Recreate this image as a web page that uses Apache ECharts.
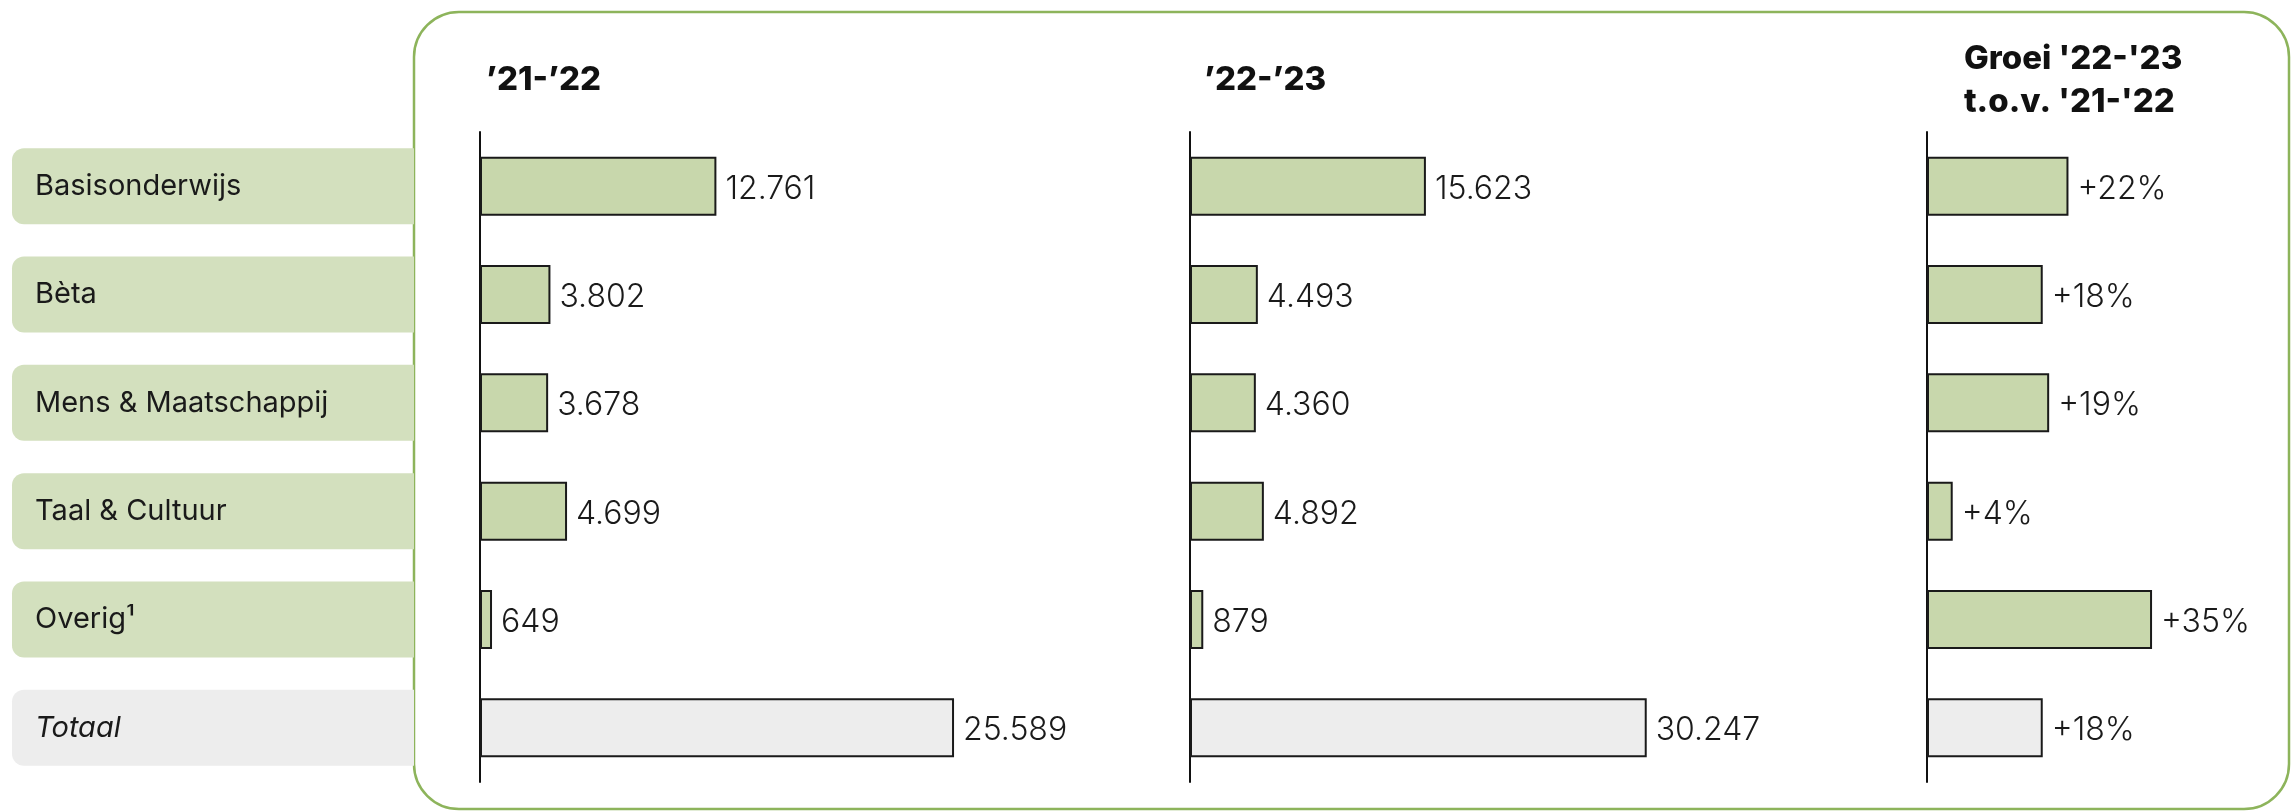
<!DOCTYPE html>
<html lang="nl">
<head>
    <meta charset="UTF-8">
    <title>Studenten per sector</title>
    <script src="https://cdn.jsdelivr.net/npm/echarts@6/dist/echarts.min.js"></script>
    <style type="text/css">
        html, body { margin: 0; padding: 0; background: #fff; }
        #chartData { width: 2293px; height: 812px; }
    </style>
</head>
<body>
<div id="chartData"></div>
<script type="text/javascript">
    var categories = ['Basisonderwijs', 'Bèta', 'Mens & Maatschappij', 'Taal & Cultuur', 'Overig¹', 'Totaal'];
    var values2122 = [12761, 3802, 3678, 4699, 649, 25589];
    var values2223 = [15623, 4493, 4360, 4892, 879, 30247];
    var growth = [22, 18, 19, 4, 35, 18];
    var headers = ['’21-’22', '’22-’23', 'Groei \'22-\'23\nt.o.v. \'21-\'22'];

    var green = '#c8d7ac', pillGreen = '#d3e0be', grey = '#ededed', frame = '#8db45b';
    var fontFamily = 'Inter';

    function dotted(v) {
        return String(v).replace(/\B(?=(\d{3})+(?!\d))/g, '.');
    }

    function barData(arr) {
        var out = [];
        for (var i = 0; i < arr.length; i++) {
            out.push({
                value: arr[i],
                itemStyle: { color: categories[i] == 'Totaal' ? grey : green }
            });
        }
        return out;
    }

    function yAxisItem(idx, withLabels) {
        return {
            type: 'category',
            gridIndex: idx,
            inverse: true,
            data: categories,
            axisTick: { show: false },
            axisLine: { show: true, lineStyle: { color: '#111', width: 2 } },
            axisLabel: {
                show: withLabels,
                margin: 468,
                align: 'left',
                formatter: function (v) {
                    return v == 'Totaal' ? '{t|' + v + '}' : '{g|' + v + '}';
                },
                rich: {
                    g: {
                        backgroundColor: pillGreen, width: 379, height: 76, lineHeight: 76,
                        padding: [0, 0, 0, 23], borderRadius: [12, 0, 0, 12],
                        fontSize: 29, color: '#1a1a1a', fontFamily: fontFamily
                    },
                    t: {
                        backgroundColor: grey, width: 379, height: 76, lineHeight: 76,
                        padding: [0, 0, 0, 23], borderRadius: [12, 0, 0, 12],
                        fontSize: 29, color: '#1a1a1a', fontStyle: 'italic', fontFamily: fontFamily
                    }
                }
            }
        };
    }

    function seriesItem(idx, data, fmt) {
        return {
            type: 'bar',
            xAxisIndex: idx,
            yAxisIndex: idx,
            barWidth: 59,
            data: barData(data),
            itemStyle: { borderColor: '#1a1a1a', borderWidth: 2 },
            label: {
                show: true,
                position: 'right',
                distance: 9,
                offset: [0, 3],
                fontSize: 32,
                fontWeight: 300,
                color: '#1a1a1a',
                fontFamily: fontFamily,
                formatter: function (p) { return fmt(p.value); }
            },
            silent: true
        };
    }

    function header(x, y, txt) {
        return {
            type: 'text', left: x, top: y, silent: true,
            style: {
                text: txt, fill: '#111', fontSize: 33, fontWeight: 800,
                fontFamily: fontFamily, lineHeight: 43
            }
        };
    }

    var myChart = echarts.init(document.getElementById('chartData'), null, { renderer: 'canvas' });

    var option = {
        animation: false,
        backgroundColor: '#fff',
        grid: [
            { left: 480, top: 132, width: 741, height: 650 },
            { left: 1190, top: 132, width: 604, height: 650 },
            { left: 1927, top: 132, width: 321.5, height: 650 }
        ],
        xAxis: [
            { type: 'value', gridIndex: 0, min: 0, max: 40000, show: false },
            { type: 'value', gridIndex: 1, min: 0, max: 40000, show: false },
            { type: 'value', gridIndex: 2, min: 0, max: 50, show: false }
        ],
        yAxis: [yAxisItem(0, true), yAxisItem(1, false), yAxisItem(2, false)],
        series: [
            seriesItem(0, values2122, dotted),
            seriesItem(1, values2223, dotted),
            seriesItem(2, growth, function (v) { return '+' + v + '%'; })
        ],
        graphic: [
            {
                type: 'rect',
                shape: { x: 414, y: 12, width: 1875, height: 797, r: 45 },
                style: { fill: 'none', stroke: frame, lineWidth: 2.5 },
                silent: true
            },
            header(486, 59, headers[0]),
            header(1204, 59, headers[1]),
            header(1964, 38, headers[2])
        ]
    };

    myChart.setOption(option);
</script>
</body>
</html>
